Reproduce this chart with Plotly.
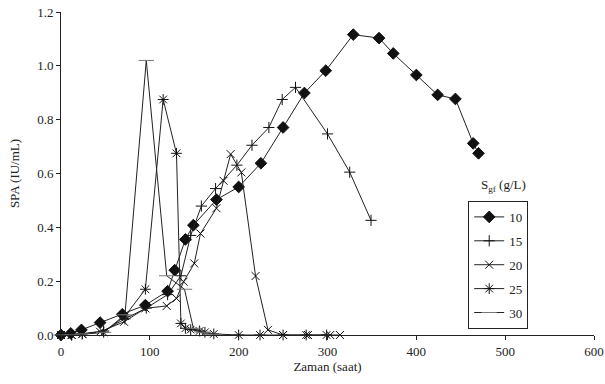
import plotly.graph_objects as go

# Data (time in hours, SPA in IU/mL)
x10 = [0, 11, 23, 44, 69, 95, 120, 128, 140, 149, 175, 200, 225, 250, 274, 298, 329, 358, 374, 400, 424, 444, 464, 470]
y10 = [0, 0.006, 0.019, 0.046, 0.077, 0.111, 0.163, 0.241, 0.355, 0.408, 0.503, 0.550, 0.638, 0.771, 0.899, 0.982, 1.116, 1.103, 1.046, 0.966, 0.892, 0.877, 0.712, 0.675]

x15 = [0, 12, 24, 48, 72, 96, 120, 135, 146, 158, 174, 198, 215, 234, 249, 264, 300, 325, 349]
y15 = [0, 0, 0.005, 0.015, 0.06, 0.10, 0.15, 0.22, 0.37, 0.479, 0.544, 0.631, 0.705, 0.771, 0.875, 0.920, 0.747, 0.605, 0.426]

x20 = [0, 12, 24, 44, 71, 95, 119, 130, 138, 150, 157, 175, 183, 191, 203, 219, 233, 250, 278, 303, 314]
y20 = [0, 0, 0.003, 0.012, 0.049, 0.099, 0.108, 0.136, 0.198, 0.266, 0.377, 0.471, 0.573, 0.672, 0.604, 0.219, 0.019, 0, 0, 0, 0]

x25 = [0, 12, 24, 48, 72, 95, 115, 130, 135, 140, 146, 156, 162, 172, 200, 224, 250, 276, 299]
y25 = [0, 0, 0.004, 0.01, 0.07, 0.17, 0.875, 0.675, 0.043, 0.025, 0.02, 0.015, 0.01, 0.004, 0, 0, 0, 0, 0]

x30 = [0, 12, 24, 48, 72, 96, 119, 139, 149, 160, 172]
y30 = [0, 0, 0.004, 0.01, 0.075, 1.02, 0.22, 0.17, 0.025, 0.01, 0.003]

names = ["10", "15", "20", "25", "30"]
xs = [x10, x15, x20, x25, x30]
ys = [y10, y15, y20, y25, y30]
symbols = ["diamond", "cross-thin-open", "x-thin-open", "asterisk-open", "line-ew-open"]
sizes = [9, 8, 8, 9, 11]
mcolors = ["#111111", "#111111", "#111111", "#111111", "#777777"]

x_ticks = [0, 100, 200, 300, 400, 500, 600]
y_ticks = [0.0, 0.2, 0.4, 0.6, 0.8, 1.0, 1.2]

FONT = "'Liberation Serif', 'Times New Roman', Times, serif"

fig = go.Figure()
for i in range(5):
    fig.add_trace(go.Scatter(
        x=xs[i], y=ys[i], name=names[i], mode="lines+markers",
        line=dict(color="#222222", width=1),
        marker=dict(symbol=symbols[i], size=sizes[i], color=mcolors[i],
                    line=dict(color=mcolors[i], width=1)),
        cliponaxis=False, legendgroup=names[i],
    ))

fig.update_layout(
    width=605, height=384,
    margin=dict(l=61, r=11, t=12, b=49),
    paper_bgcolor="white", plot_bgcolor="white",
    font=dict(family=FONT, size=13, color="#222222"),
    showlegend=True,
    legend=dict(x=0.764, y=0.415, xanchor="left", yanchor="top",
                bordercolor="#222222", borderwidth=1, bgcolor="white",
                font=dict(family=FONT, size=13), tracegroupgap=4,
                entrywidth=40, traceorder="grouped"),
    annotations=[dict(text="S<sub>gf</sub> (g/L)", x=0.83, y=0.43,
                      xref="paper", yref="paper", showarrow=False,
                      font=dict(family=FONT, size=13), xanchor="center", yanchor="bottom")],
)
fig.update_xaxes(range=[0, 600], tickvals=x_ticks, showgrid=False, zeroline=False,
                 showline=True, linecolor="#222222", linewidth=1, automargin=False,
                 ticks="outside", ticklen=4, tickcolor="#222222",
                 tickfont=dict(family=FONT, size=13),
                 title=dict(text="Zaman (saat)", standoff=2, font=dict(family=FONT, size=13)))
fig.update_yaxes(range=[0, 1.2], tickvals=y_ticks, tickformat=".1f", showgrid=False,
                 zeroline=False, showline=True, linecolor="#222222", linewidth=1, automargin=False,
                 ticks="outside", ticklen=4, tickcolor="#222222",
                 tickfont=dict(family=FONT, size=13),
                 title=dict(text="SPA (IU/mL)", standoff=14, font=dict(family=FONT, size=13)))

fig.write_html("out.html", config={"displayModeBar": False},
               post_script="document.body.style.margin='0';")
